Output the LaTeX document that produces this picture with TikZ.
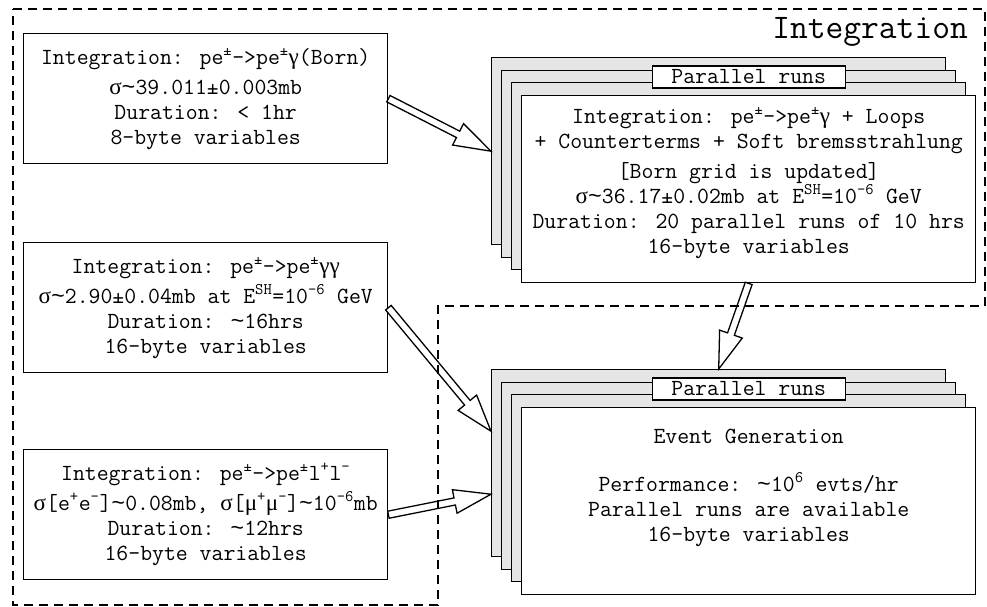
\documentclass[tikz,border=0pt]{standalone}
\usepackage{fontspec}
\newfontfamily\grkfam{Liberation Serif}
\newfontfamily\tldfam{Liberation Mono}
\usetikzlibrary{calc}

% upright Greek letters set in a serif face
\newcommand\grsig{{\grkfam σ}}
\newcommand\grgam{{\grkfam γ}}
\newcommand\grmu{{\grkfam μ}}
% tilde sitting at mid height
\newcommand\tld{{\tldfam\textasciitilde}}
\newcommand\up[1]{\textsuperscript{#1}}

\tikzset{
  txt/.style={font=\ttfamily\fontsize{23.1}{25}\selectfont, align=center, inner sep=0pt},
  sheet/.style={draw, line width=1.4pt, fill=black!10, minimum width=454pt,
    minimum height=187pt, inner sep=0pt, anchor=north west},
  frontsheet/.style={sheet, fill=white},
  infobox/.style={txt, draw, line width=1.4pt, fill=white, minimum width=364pt,
    minimum height=130pt, anchor=north west},
  runlabel/.style={txt, draw, line width=1.4pt, fill=white, minimum width=193pt,
    minimum height=22pt},
  hollow/.style={draw, line width=1.3pt, fill=white, line join=miter},
  frame/.style={draw, line width=1.3pt, dash pattern=on 9pt off 6pt},
}

% wide open arrow from #1 to #2: double-edged shaft and a hollow triangular head
\newcommand\hollowarrow[2]{%
  \coordinate (hb) at ($(#2)!37pt!(#1)$);
  \draw[hollow] ($(#1)!3.6pt!90:(#2)$) -- ($(hb)!3.6pt!90:(#2)$)
    -- ($(hb)!12pt!90:(#2)$) -- (#2) -- ($(hb)!12pt!-90:(#2)$)
    -- ($(hb)!3.6pt!-90:(#2)$) -- ($(#1)!3.6pt!-90:(#2)$) -- cycle;}

\begin{document}
\begin{tikzpicture}[x=1pt,y=-1pt]
\useasboundingbox[fill=white] (0,0) rectangle (987,607);

% left column: single integration jobs
\node[infobox] (b1) at (23,33) {Integration: pe\up{±}->pe\up{±}\grgam(Born)\\[5pt]
  \grsig\tld 39.011±0.003mb\\
  Duration: < 1hr\\
  8-byte variables};
\node[infobox] (b2) at (23,242) {Integration: pe\up{±}->pe\up{±}\grgam\grgam\\[5pt]
  \grsig\tld 2.90±0.04mb at E\up{SH}=10\up{-6} GeV\\
  Duration: \tld 16hrs\\
  16-byte variables};
\node[infobox] (b3) at (23,449) {Integration: pe\up{±}->pe\up{±}l\up{+}l\up{-}\\[5pt]
  \grsig[e\up{+}e\up{-}]\tld 0.08mb, \grsig[\grmu\up{+}\grmu\up{-}]\tld 10\up{-6}mb\\
  Duration: \tld 12hrs\\
  16-byte variables};

% stack of parallel integration runs
\node[sheet] (tb1) at (491,57) {};
\node[sheet] (tb2) at (501,70) {};
\node[sheet] (tb3) at (511,82) {};
\node[frontsheet] (tf) at (521,95) {};
\node[runlabel] (tl) at ($(tf.north)+(0,-18)$) {Parallel runs};
\node[txt] (tt) at ($(tf.center)+(0,-6)$) {Integration: pe\up{±}->pe\up{±}\grgam{} + Loops\\
  + Counterterms + Soft bremsstrahlung\\[5pt]
  {}[Born grid is updated]\\
  \grsig\tld 36.17±0.02mb at E\up{SH}=10\up{-6} GeV\\
  Duration: 20 parallel runs of 10 hrs\\
  16-byte variables};

% stack of parallel event generation runs
\node[sheet] (bb1) at (491,369) {};
\node[sheet] (bb2) at (501,382) {};
\node[sheet] (bb3) at (511,394) {};
\node[frontsheet] (bf) at (521,407) {};
\node[runlabel] (bl) at ($(bf.north)+(0,-18)$) {Parallel runs};
\node[txt] (bt) at ($(bf.center)+(0,-13)$) {Event Generation\\[23pt]
  Performance: \tld 10\up{6} evts/hr\\
  Parallel runs are available\\
  16-byte variables};

% connectors
\coordinate (in2) at ($(bb1.west)+(0,-32)$);
\coordinate (in3) at ($(bb1.west)+(0,31)$);
\hollowarrow{b1.east}{tb1.west}
\hollowarrow{b2.east}{in2}
\hollowarrow{b3.east}{in3}
\hollowarrow{tf.south}{bb1.north}

% dashed outline of the integration stage
\coordinate (f1) at (13,9);
\coordinate (f2) at (985,9);
\coordinate (f3) at (985,306);
\coordinate (f4) at (438,306);
\coordinate (f5) at (438,605);
\coordinate (f6) at (13,605);
\draw[frame] (f1) -- (f2) -- (f3) -- (f4) -- (f5) -- (f6) -- cycle;
\node[font=\ttfamily\fontsize{34.5}{35}\selectfont, anchor=base east, inner sep=0pt] (ttl) at (968,39) {Integration};
\end{tikzpicture}
\end{document}
